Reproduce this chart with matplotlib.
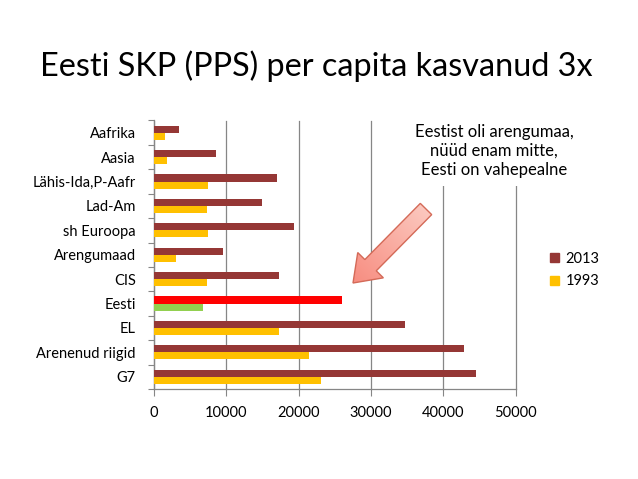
import matplotlib.pyplot as plt
import numpy as np
from matplotlib.colors import LinearSegmentedColormap
from matplotlib.patches import FancyArrow, Patch

plt.rcParams["font.family"] = ["Lato", "DejaVu Sans"]

# categories from top to bottom, as shown in the chart
categories = [
    "Aafrika",
    "Aasia",
    "Lähis-Ida,P-Aafr",
    "Lad-Am",
    "sh Euroopa",
    "Arengumaad",
    "CIS",
    "Eesti",
    "EL",
    "Arenenud riigid",
    "G7",
]
values_2013 = [3500, 8550, 17050, 14900, 19300, 9600, 17300, 26000, 34700, 42900, 44600]
values_1993 = [1500, 1750, 7450, 7300, 7500, 3100, 7300, 6800, 17300, 21400, 23050]
series_names = ["2013", "1993"]
xticks = [0, 10000, 20000, 30000, 40000, 50000]
note = "Eestist oli arengumaa,\nnüüd enam mitte,\nEesti on vahepealne"
title = "Eesti SKP (PPS) per capita kasvanud 3x"

col_2013 = "#953735"
col_1993 = "#FFC000"
highlight = {"Eesti": ("#FF0000", "#92D050")}

W, H = 638, 479
fig = plt.figure(figsize=(W / 100, H / 100), dpi=100)
fig.patch.set_facecolor("white")

ax = fig.add_axes([154 / W, 1 - 389 / H, 361.5 / W, 268.5 / H])

n = len(categories)
ypos = np.arange(n)[::-1]
bh = 0.29
c13 = [highlight.get(c, (col_2013, col_1993))[0] for c in categories]
c93 = [highlight.get(c, (col_2013, col_1993))[1] for c in categories]
ax.barh(ypos + bh / 2, values_2013, height=bh, color=c13, zorder=3)
ax.barh(ypos - bh / 2, values_1993, height=bh, color=c93, zorder=3)

ax.set_xlim(0, 50000)
ax.set_ylim(-0.5, n - 0.5)
ax.set_xticks(xticks)
ax.set_xticklabels([str(t) for t in xticks], fontsize=10.5)
ax.grid(axis="x", color="#868686", lw=0.9, zorder=0)
for gl in ax.get_xgridlines():
    gl.set_clip_on(False)
ax.set_axisbelow(True)

# category boundary ticks (major) and labels at centres (minor)
ax.set_yticks(np.arange(-0.5, n, 1.0))
ax.set_yticklabels([])
ax.set_yticks(ypos, minor=True)
ax.set_yticklabels(categories, minor=True, fontsize=10.5)
ax.tick_params(axis="y", which="major", length=4, color="#868686", direction="out")
ax.tick_params(axis="y", which="minor", length=0, pad=13)
ax.tick_params(axis="x", length=5, color="#868686", pad=7)

for s in ["top", "right"]:
    ax.spines[s].set_visible(False)
for s in ["left", "bottom"]:
    ax.spines[s].set_color("#868686")
    ax.spines[s].set_linewidth(0.9)

fig.text(316 / W, 1 - 66 / H, title, ha="center", va="center", fontsize=23.3)

# text box with white fill, hides the grid lines behind it
fig.text(494 / W, 1 - 151 / H, note, ha="center", va="center", fontsize=12,
         linespacing=1.2, zorder=4,
         bbox=dict(facecolor="white", edgecolor="none", pad=6))

handles = [Patch(color=col_2013), Patch(color=col_1993)]
fig.legend(handles, series_names, loc="center left",
           bbox_to_anchor=(537 / W, 1 - 270 / H), frameon=False,
           fontsize=10.5, handlelength=0.6, handleheight=0.6,
           handletextpad=0.45, labelspacing=0.6)

# overlay for the block arrow, in pixel units
ov = fig.add_axes([0, 0, 1, 1], zorder=5)
ov.set_xlim(0, W)
ov.set_ylim(H, 0)
ov.axis("off")
arrow = FancyArrow(426, 209, -73, 74, width=16, head_width=36, head_length=25,
                   length_includes_head=True, facecolor="none",
                   edgecolor="#D46A58", lw=1.0, zorder=6)
ov.add_patch(arrow)
gx, gy = np.meshgrid(np.linspace(0, 1, 200), np.linspace(0, 1, 200))
grad = (gx * -0.7 + gy * 0.7 + 0.7) / 1.4
cmap = LinearSegmentedColormap.from_list("arr", ["#FCCFC6", "#F7877A"])
im = ov.imshow(grad, extent=(345, 436, 290, 200), cmap=cmap, zorder=5,
               aspect="auto", interpolation="bilinear")
im.set_clip_path(arrow)

fig.savefig("out.png", dpi=100)
